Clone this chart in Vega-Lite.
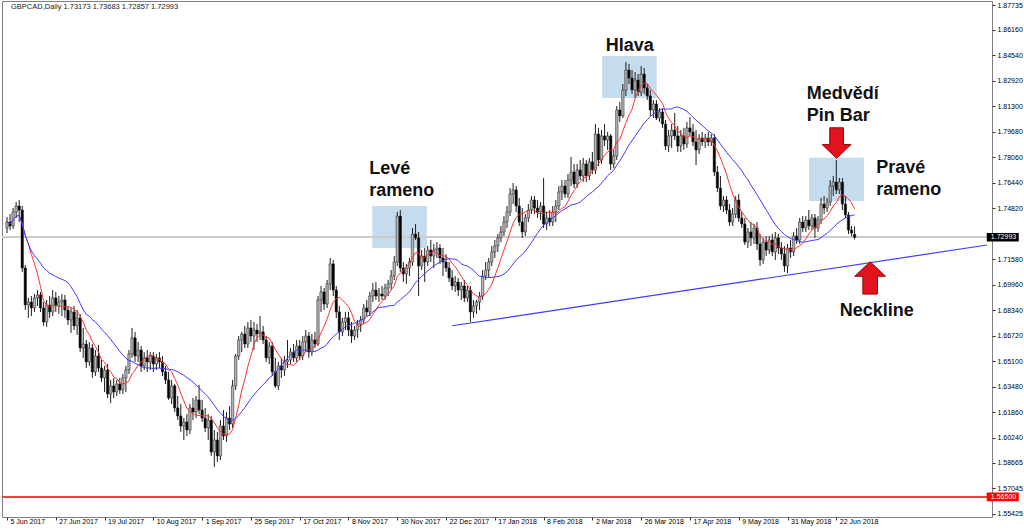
{
"$schema": "https://vega.github.io/schema/vega-lite/v6.json",
"width": 990,
"height": 516,
"autosize": {"type": "none"},
"padding": {"left": 2, "top": 1, "right": 32, "bottom": 15},
"background": "white",
"config": {
  "view": {"stroke": "#7f7f7f", "strokeWidth": 1},
  "axis": {"grid": false, "domain": false, "labelFont": "Liberation Sans", "labelFontSize": 7, "labelColor": "#000000", "tickColor": "#333333", "title": null}
},
"resolve": {"axis": {"x": "independent", "y": "independent"}},
"datasets": {
  "candles": [
{"i":0,"o":1.7358,"h":1.7428,"l":1.7326,"c":1.7396},
{"i":1,"o":1.7396,"h":1.7447,"l":1.7345,"c":1.7371},
{"i":2,"o":1.7371,"h":1.7485,"l":1.7352,"c":1.7460},
{"i":3,"o":1.7460,"h":1.7523,"l":1.7422,"c":1.7498},
{"i":4,"o":1.7498,"h":1.7536,"l":1.7396,"c":1.7472},
{"i":5,"o":1.7472,"h":1.7498,"l":1.7079,"c":1.7104},
{"i":6,"o":1.7104,"h":1.7123,"l":1.6837,"c":1.6869},
{"i":7,"o":1.6869,"h":1.6914,"l":1.6787,"c":1.6888},
{"i":8,"o":1.6888,"h":1.6926,"l":1.6799,"c":1.6850},
{"i":9,"o":1.6850,"h":1.6939,"l":1.6825,"c":1.6914},
{"i":10,"o":1.6914,"h":1.6964,"l":1.6863,"c":1.6933},
{"i":11,"o":1.6933,"h":1.6952,"l":1.6825,"c":1.6850},
{"i":12,"o":1.6850,"h":1.6888,"l":1.6736,"c":1.6761},
{"i":13,"o":1.6761,"h":1.6901,"l":1.6730,"c":1.6869},
{"i":14,"o":1.6869,"h":1.6926,"l":1.6787,"c":1.6825},
{"i":15,"o":1.6825,"h":1.6964,"l":1.6799,"c":1.6914},
{"i":16,"o":1.6914,"h":1.6952,"l":1.6825,"c":1.6863},
{"i":17,"o":1.6863,"h":1.6926,"l":1.6812,"c":1.6888},
{"i":18,"o":1.6888,"h":1.6939,"l":1.6799,"c":1.6901},
{"i":19,"o":1.6901,"h":1.6933,"l":1.6787,"c":1.6837},
{"i":20,"o":1.6837,"h":1.6863,"l":1.6742,"c":1.6774},
{"i":21,"o":1.6774,"h":1.6850,"l":1.6691,"c":1.6825},
{"i":22,"o":1.6825,"h":1.6863,"l":1.6710,"c":1.6736},
{"i":23,"o":1.6736,"h":1.6837,"l":1.6679,"c":1.6787},
{"i":24,"o":1.6787,"h":1.6812,"l":1.6570,"c":1.6596},
{"i":25,"o":1.6596,"h":1.6723,"l":1.6533,"c":1.6621},
{"i":26,"o":1.6621,"h":1.6647,"l":1.6469,"c":1.6507},
{"i":27,"o":1.6507,"h":1.6634,"l":1.6482,"c":1.6596},
{"i":28,"o":1.6596,"h":1.6621,"l":1.6406,"c":1.6444},
{"i":29,"o":1.6444,"h":1.6583,"l":1.6418,"c":1.6545},
{"i":30,"o":1.6545,"h":1.6615,"l":1.6444,"c":1.6469},
{"i":31,"o":1.6469,"h":1.6520,"l":1.6380,"c":1.6406},
{"i":32,"o":1.6406,"h":1.6482,"l":1.6316,"c":1.6456},
{"i":33,"o":1.6456,"h":1.6494,"l":1.6278,"c":1.6304},
{"i":34,"o":1.6304,"h":1.6393,"l":1.6246,"c":1.6355},
{"i":35,"o":1.6355,"h":1.6406,"l":1.6278,"c":1.6316},
{"i":36,"o":1.6316,"h":1.6393,"l":1.6291,"c":1.6367},
{"i":37,"o":1.6367,"h":1.6406,"l":1.6304,"c":1.6329},
{"i":38,"o":1.6329,"h":1.6431,"l":1.6304,"c":1.6406},
{"i":39,"o":1.6406,"h":1.6482,"l":1.6316,"c":1.6456},
{"i":40,"o":1.6456,"h":1.6583,"l":1.6431,"c":1.6558},
{"i":41,"o":1.6558,"h":1.6723,"l":1.6533,"c":1.6660},
{"i":42,"o":1.6660,"h":1.6698,"l":1.6507,"c":1.6545},
{"i":43,"o":1.6545,"h":1.6634,"l":1.6507,"c":1.6583},
{"i":44,"o":1.6583,"h":1.6608,"l":1.6444,"c":1.6482},
{"i":45,"o":1.6482,"h":1.6570,"l":1.6456,"c":1.6533},
{"i":46,"o":1.6533,"h":1.6583,"l":1.6444,"c":1.6507},
{"i":47,"o":1.6507,"h":1.6570,"l":1.6456,"c":1.6545},
{"i":48,"o":1.6545,"h":1.6570,"l":1.6444,"c":1.6494},
{"i":49,"o":1.6494,"h":1.6558,"l":1.6456,"c":1.6533},
{"i":50,"o":1.6533,"h":1.6570,"l":1.6469,"c":1.6507},
{"i":51,"o":1.6507,"h":1.6545,"l":1.6418,"c":1.6444},
{"i":52,"o":1.6444,"h":1.6482,"l":1.6367,"c":1.6393},
{"i":53,"o":1.6393,"h":1.6444,"l":1.6266,"c":1.6278},
{"i":54,"o":1.6278,"h":1.6393,"l":1.6240,"c":1.6355},
{"i":55,"o":1.6355,"h":1.6367,"l":1.6189,"c":1.6215},
{"i":56,"o":1.6215,"h":1.6291,"l":1.6138,"c":1.6164},
{"i":57,"o":1.6164,"h":1.6240,"l":1.6062,"c":1.6100},
{"i":58,"o":1.6100,"h":1.6151,"l":1.6011,"c":1.6126},
{"i":59,"o":1.6126,"h":1.6176,"l":1.6037,"c":1.6075},
{"i":60,"o":1.6075,"h":1.6240,"l":1.6049,"c":1.6215},
{"i":61,"o":1.6215,"h":1.6278,"l":1.6138,"c":1.6189},
{"i":62,"o":1.6189,"h":1.6291,"l":1.6151,"c":1.6266},
{"i":63,"o":1.6266,"h":1.6361,"l":1.6176,"c":1.6202},
{"i":64,"o":1.6202,"h":1.6266,"l":1.6126,"c":1.6151},
{"i":65,"o":1.6151,"h":1.6215,"l":1.6062,"c":1.6088},
{"i":66,"o":1.6088,"h":1.6176,"l":1.6011,"c":1.6138},
{"i":67,"o":1.6138,"h":1.6164,"l":1.5910,"c":1.5935},
{"i":68,"o":1.5935,"h":1.6075,"l":1.5840,"c":1.6011},
{"i":69,"o":1.6011,"h":1.6062,"l":1.5872,"c":1.5910},
{"i":70,"o":1.5910,"h":1.6138,"l":1.5884,"c":1.6100},
{"i":71,"o":1.6100,"h":1.6202,"l":1.6011,"c":1.6037},
{"i":72,"o":1.6037,"h":1.6189,"l":1.5999,"c":1.6151},
{"i":73,"o":1.6151,"h":1.6227,"l":1.6075,"c":1.6113},
{"i":74,"o":1.6113,"h":1.6393,"l":1.6088,"c":1.6355},
{"i":75,"o":1.6355,"h":1.6558,"l":1.6329,"c":1.6545},
{"i":76,"o":1.6545,"h":1.6672,"l":1.6520,"c":1.6647},
{"i":77,"o":1.6647,"h":1.6698,"l":1.6570,"c":1.6685},
{"i":78,"o":1.6685,"h":1.6736,"l":1.6596,"c":1.6621},
{"i":79,"o":1.6621,"h":1.6761,"l":1.6596,"c":1.6723},
{"i":80,"o":1.6723,"h":1.6774,"l":1.6634,"c":1.6672},
{"i":81,"o":1.6672,"h":1.6761,"l":1.6583,"c":1.6710},
{"i":82,"o":1.6710,"h":1.6748,"l":1.6634,"c":1.6685},
{"i":83,"o":1.6685,"h":1.6799,"l":1.6647,"c":1.6698},
{"i":84,"o":1.6698,"h":1.6736,"l":1.6621,"c":1.6647},
{"i":85,"o":1.6647,"h":1.6672,"l":1.6507,"c":1.6533},
{"i":86,"o":1.6533,"h":1.6634,"l":1.6494,"c":1.6608},
{"i":87,"o":1.6608,"h":1.6634,"l":1.6418,"c":1.6444},
{"i":88,"o":1.6444,"h":1.6533,"l":1.6342,"c":1.6355},
{"i":89,"o":1.6355,"h":1.6507,"l":1.6329,"c":1.6482},
{"i":90,"o":1.6482,"h":1.6533,"l":1.6406,"c":1.6456},
{"i":91,"o":1.6456,"h":1.6545,"l":1.6418,"c":1.6507},
{"i":92,"o":1.6507,"h":1.6647,"l":1.6469,"c":1.6520},
{"i":93,"o":1.6520,"h":1.6596,"l":1.6494,"c":1.6570},
{"i":94,"o":1.6570,"h":1.6621,"l":1.6507,"c":1.6533},
{"i":95,"o":1.6533,"h":1.6647,"l":1.6507,"c":1.6608},
{"i":96,"o":1.6608,"h":1.6647,"l":1.6520,"c":1.6545},
{"i":97,"o":1.6545,"h":1.6672,"l":1.6520,"c":1.6634},
{"i":98,"o":1.6634,"h":1.6710,"l":1.6570,"c":1.6672},
{"i":99,"o":1.6672,"h":1.6698,"l":1.6533,"c":1.6570},
{"i":100,"o":1.6570,"h":1.6685,"l":1.6545,"c":1.6647},
{"i":101,"o":1.6647,"h":1.6698,"l":1.6596,"c":1.6621},
{"i":102,"o":1.6621,"h":1.6926,"l":1.6608,"c":1.6901},
{"i":103,"o":1.6901,"h":1.6990,"l":1.6825,"c":1.6952},
{"i":104,"o":1.6952,"h":1.6977,"l":1.6837,"c":1.6875},
{"i":105,"o":1.6875,"h":1.7028,"l":1.6850,"c":1.7003},
{"i":106,"o":1.7003,"h":1.7168,"l":1.6964,"c":1.7130},
{"i":107,"o":1.7130,"h":1.7155,"l":1.6926,"c":1.6964},
{"i":108,"o":1.6964,"h":1.6990,"l":1.6787,"c":1.6825},
{"i":109,"o":1.6825,"h":1.6863,"l":1.6647,"c":1.6698},
{"i":110,"o":1.6698,"h":1.6787,"l":1.6672,"c":1.6761},
{"i":111,"o":1.6761,"h":1.6825,"l":1.6710,"c":1.6787},
{"i":112,"o":1.6787,"h":1.6825,"l":1.6672,"c":1.6710},
{"i":113,"o":1.6710,"h":1.6761,"l":1.6628,"c":1.6672},
{"i":114,"o":1.6672,"h":1.6736,"l":1.6647,"c":1.6710},
{"i":115,"o":1.6710,"h":1.6774,"l":1.6660,"c":1.6748},
{"i":116,"o":1.6748,"h":1.6799,"l":1.6698,"c":1.6774},
{"i":117,"o":1.6774,"h":1.6875,"l":1.6748,"c":1.6850},
{"i":118,"o":1.6850,"h":1.6901,"l":1.6799,"c":1.6825},
{"i":119,"o":1.6825,"h":1.6952,"l":1.6799,"c":1.6926},
{"i":120,"o":1.6926,"h":1.7009,"l":1.6888,"c":1.6964},
{"i":121,"o":1.6964,"h":1.7015,"l":1.6901,"c":1.6926},
{"i":122,"o":1.6926,"h":1.6977,"l":1.6888,"c":1.6939},
{"i":123,"o":1.6939,"h":1.6990,"l":1.6901,"c":1.6926},
{"i":124,"o":1.6926,"h":1.7003,"l":1.6901,"c":1.6977},
{"i":125,"o":1.6977,"h":1.7028,"l":1.6926,"c":1.7003},
{"i":126,"o":1.7003,"h":1.7091,"l":1.6964,"c":1.7053},
{"i":127,"o":1.7053,"h":1.7180,"l":1.7028,"c":1.7142},
{"i":128,"o":1.7142,"h":1.7460,"l":1.7117,"c":1.7434},
{"i":129,"o":1.7434,"h":1.7472,"l":1.7079,"c":1.7104},
{"i":130,"o":1.7104,"h":1.7142,"l":1.7015,"c":1.7066},
{"i":131,"o":1.7066,"h":1.7130,"l":1.7003,"c":1.7104},
{"i":132,"o":1.7104,"h":1.7168,"l":1.7053,"c":1.7142},
{"i":133,"o":1.7142,"h":1.7358,"l":1.7117,"c":1.7320},
{"i":134,"o":1.7320,"h":1.7383,"l":1.7282,"c":1.7295},
{"i":135,"o":1.7295,"h":1.7333,"l":1.6926,"c":1.7117},
{"i":136,"o":1.7117,"h":1.7218,"l":1.7091,"c":1.7180},
{"i":137,"o":1.7180,"h":1.7231,"l":1.7015,"c":1.7142},
{"i":138,"o":1.7142,"h":1.7244,"l":1.7117,"c":1.7218},
{"i":139,"o":1.7218,"h":1.7282,"l":1.7142,"c":1.7180},
{"i":140,"o":1.7180,"h":1.7256,"l":1.7104,"c":1.7218},
{"i":141,"o":1.7218,"h":1.7269,"l":1.7168,"c":1.7231},
{"i":142,"o":1.7231,"h":1.7256,"l":1.7130,"c":1.7168},
{"i":143,"o":1.7168,"h":1.7231,"l":1.7053,"c":1.7142},
{"i":144,"o":1.7142,"h":1.7193,"l":1.7079,"c":1.7104},
{"i":145,"o":1.7104,"h":1.7142,"l":1.7015,"c":1.7041},
{"i":146,"o":1.7041,"h":1.7091,"l":1.6964,"c":1.6990},
{"i":147,"o":1.6990,"h":1.7053,"l":1.6952,"c":1.7015},
{"i":148,"o":1.7015,"h":1.7041,"l":1.6926,"c":1.6964},
{"i":149,"o":1.6964,"h":1.7015,"l":1.6901,"c":1.6990},
{"i":150,"o":1.6990,"h":1.7028,"l":1.6888,"c":1.6914},
{"i":151,"o":1.6914,"h":1.6990,"l":1.6888,"c":1.6964},
{"i":152,"o":1.6964,"h":1.6990,"l":1.6761,"c":1.6825},
{"i":153,"o":1.6825,"h":1.6901,"l":1.6787,"c":1.6863},
{"i":154,"o":1.6863,"h":1.6901,"l":1.6812,"c":1.6888},
{"i":155,"o":1.6888,"h":1.6952,"l":1.6837,"c":1.6926},
{"i":156,"o":1.6926,"h":1.7091,"l":1.6901,"c":1.7053},
{"i":157,"o":1.7053,"h":1.7142,"l":1.7028,"c":1.7091},
{"i":158,"o":1.7091,"h":1.7168,"l":1.7041,"c":1.7142},
{"i":159,"o":1.7142,"h":1.7244,"l":1.7117,"c":1.7206},
{"i":160,"o":1.7206,"h":1.7282,"l":1.7168,"c":1.7244},
{"i":161,"o":1.7244,"h":1.7320,"l":1.7206,"c":1.7295},
{"i":162,"o":1.7295,"h":1.7371,"l":1.7269,"c":1.7333},
{"i":163,"o":1.7333,"h":1.7434,"l":1.7307,"c":1.7396},
{"i":164,"o":1.7396,"h":1.7498,"l":1.7358,"c":1.7460},
{"i":165,"o":1.7460,"h":1.7612,"l":1.7434,"c":1.7574},
{"i":166,"o":1.7574,"h":1.7644,"l":1.7510,"c":1.7600},
{"i":167,"o":1.7600,"h":1.7625,"l":1.7460,"c":1.7498},
{"i":168,"o":1.7498,"h":1.7549,"l":1.7371,"c":1.7396},
{"i":169,"o":1.7396,"h":1.7485,"l":1.7295,"c":1.7333},
{"i":170,"o":1.7333,"h":1.7447,"l":1.7307,"c":1.7422},
{"i":171,"o":1.7422,"h":1.7510,"l":1.7396,"c":1.7472},
{"i":172,"o":1.7472,"h":1.7561,"l":1.7447,"c":1.7536},
{"i":173,"o":1.7536,"h":1.7561,"l":1.7447,"c":1.7485},
{"i":174,"o":1.7485,"h":1.7536,"l":1.7422,"c":1.7460},
{"i":175,"o":1.7460,"h":1.7523,"l":1.7409,"c":1.7498},
{"i":176,"o":1.7498,"h":1.7676,"l":1.7358,"c":1.7384},
{"i":177,"o":1.7384,"h":1.7460,"l":1.7345,"c":1.7422},
{"i":178,"o":1.7422,"h":1.7472,"l":1.7371,"c":1.7396},
{"i":179,"o":1.7396,"h":1.7498,"l":1.7371,"c":1.7460},
{"i":180,"o":1.7460,"h":1.7536,"l":1.7396,"c":1.7498},
{"i":181,"o":1.7498,"h":1.7625,"l":1.7472,"c":1.7587},
{"i":182,"o":1.7587,"h":1.7663,"l":1.7536,"c":1.7625},
{"i":183,"o":1.7625,"h":1.7663,"l":1.7549,"c":1.7574},
{"i":184,"o":1.7574,"h":1.7701,"l":1.7549,"c":1.7663},
{"i":185,"o":1.7663,"h":1.7809,"l":1.7625,"c":1.7714},
{"i":186,"o":1.7714,"h":1.7765,"l":1.7612,"c":1.7638},
{"i":187,"o":1.7638,"h":1.7765,"l":1.7612,"c":1.7727},
{"i":188,"o":1.7727,"h":1.7790,"l":1.7663,"c":1.7689},
{"i":189,"o":1.7689,"h":1.7803,"l":1.7651,"c":1.7765},
{"i":190,"o":1.7765,"h":1.7790,"l":1.7651,"c":1.7689},
{"i":191,"o":1.7689,"h":1.7803,"l":1.7663,"c":1.7778},
{"i":192,"o":1.7778,"h":1.7841,"l":1.7701,"c":1.7727},
{"i":193,"o":1.7727,"h":1.8019,"l":1.7701,"c":1.7955},
{"i":194,"o":1.7955,"h":1.7994,"l":1.7752,"c":1.7790},
{"i":195,"o":1.7790,"h":1.7981,"l":1.7765,"c":1.7943},
{"i":196,"o":1.7943,"h":1.8019,"l":1.7879,"c":1.7917},
{"i":197,"o":1.7917,"h":1.7968,"l":1.7854,"c":1.7943},
{"i":198,"o":1.7943,"h":1.7955,"l":1.7727,"c":1.7765},
{"i":199,"o":1.7765,"h":1.7854,"l":1.7739,"c":1.7816},
{"i":200,"o":1.7816,"h":1.8133,"l":1.7790,"c":1.8108},
{"i":201,"o":1.8108,"h":1.8159,"l":1.8032,"c":1.8070},
{"i":202,"o":1.8070,"h":1.8273,"l":1.8057,"c":1.8235},
{"i":203,"o":1.8235,"h":1.8413,"l":1.8197,"c":1.8362},
{"i":204,"o":1.8362,"h":1.8400,"l":1.8273,"c":1.8311},
{"i":205,"o":1.8311,"h":1.8362,"l":1.8210,"c":1.8235},
{"i":206,"o":1.8235,"h":1.8349,"l":1.8184,"c":1.8298},
{"i":207,"o":1.8298,"h":1.8337,"l":1.8197,"c":1.8222},
{"i":208,"o":1.8222,"h":1.8387,"l":1.8197,"c":1.8336},
{"i":209,"o":1.8336,"h":1.8375,"l":1.8210,"c":1.8248},
{"i":210,"o":1.8248,"h":1.8273,"l":1.8171,"c":1.8197},
{"i":211,"o":1.8197,"h":1.8235,"l":1.8070,"c":1.8108},
{"i":212,"o":1.8108,"h":1.8171,"l":1.8057,"c":1.8146},
{"i":213,"o":1.8146,"h":1.8171,"l":1.8044,"c":1.8057},
{"i":214,"o":1.8057,"h":1.8120,"l":1.8032,"c":1.8095},
{"i":215,"o":1.8095,"h":1.8120,"l":1.7994,"c":1.8019},
{"i":216,"o":1.8019,"h":1.8044,"l":1.7854,"c":1.7879},
{"i":217,"o":1.7879,"h":1.7981,"l":1.7841,"c":1.7943},
{"i":218,"o":1.7943,"h":1.8019,"l":1.7867,"c":1.7981},
{"i":219,"o":1.7981,"h":1.8089,"l":1.7917,"c":1.7943},
{"i":220,"o":1.7943,"h":1.8006,"l":1.7841,"c":1.7879},
{"i":221,"o":1.7879,"h":1.7981,"l":1.7841,"c":1.7943},
{"i":222,"o":1.7943,"h":1.7994,"l":1.7854,"c":1.7892},
{"i":223,"o":1.7892,"h":1.8032,"l":1.7867,"c":1.7994},
{"i":224,"o":1.7994,"h":1.8063,"l":1.7943,"c":1.7968},
{"i":225,"o":1.7968,"h":1.8019,"l":1.7879,"c":1.7905},
{"i":226,"o":1.7905,"h":1.7981,"l":1.7758,"c":1.7854},
{"i":227,"o":1.7854,"h":1.7955,"l":1.7828,"c":1.7930},
{"i":228,"o":1.7930,"h":1.7968,"l":1.7879,"c":1.7905},
{"i":229,"o":1.7905,"h":1.7955,"l":1.7867,"c":1.7930},
{"i":230,"o":1.7930,"h":1.7968,"l":1.7879,"c":1.7905},
{"i":231,"o":1.7905,"h":1.7955,"l":1.7879,"c":1.7930},
{"i":232,"o":1.7930,"h":1.7955,"l":1.7689,"c":1.7714},
{"i":233,"o":1.7714,"h":1.7752,"l":1.7587,"c":1.7612},
{"i":234,"o":1.7612,"h":1.7689,"l":1.7472,"c":1.7498},
{"i":235,"o":1.7498,"h":1.7561,"l":1.7460,"c":1.7536},
{"i":236,"o":1.7536,"h":1.7561,"l":1.7447,"c":1.7472},
{"i":237,"o":1.7472,"h":1.7510,"l":1.7371,"c":1.7396},
{"i":238,"o":1.7396,"h":1.7485,"l":1.7371,"c":1.7447},
{"i":239,"o":1.7447,"h":1.7561,"l":1.7422,"c":1.7536},
{"i":240,"o":1.7536,"h":1.7574,"l":1.7396,"c":1.7422},
{"i":241,"o":1.7422,"h":1.7460,"l":1.7358,"c":1.7384},
{"i":242,"o":1.7384,"h":1.7422,"l":1.7250,"c":1.7269},
{"i":243,"o":1.7269,"h":1.7358,"l":1.7231,"c":1.7333},
{"i":244,"o":1.7333,"h":1.7396,"l":1.7244,"c":1.7295},
{"i":245,"o":1.7295,"h":1.7384,"l":1.7257,"c":1.7358},
{"i":246,"o":1.7358,"h":1.7396,"l":1.7218,"c":1.7257},
{"i":247,"o":1.7257,"h":1.7320,"l":1.7117,"c":1.7155},
{"i":248,"o":1.7155,"h":1.7295,"l":1.7130,"c":1.7269},
{"i":249,"o":1.7269,"h":1.7307,"l":1.7180,"c":1.7218},
{"i":250,"o":1.7218,"h":1.7307,"l":1.7193,"c":1.7282},
{"i":251,"o":1.7282,"h":1.7320,"l":1.7180,"c":1.7206},
{"i":252,"o":1.7206,"h":1.7333,"l":1.7155,"c":1.7295},
{"i":253,"o":1.7295,"h":1.7320,"l":1.7193,"c":1.7231},
{"i":254,"o":1.7231,"h":1.7269,"l":1.7155,"c":1.7193},
{"i":255,"o":1.7193,"h":1.7244,"l":1.7079,"c":1.7117},
{"i":256,"o":1.7117,"h":1.7257,"l":1.7072,"c":1.7231},
{"i":257,"o":1.7231,"h":1.7282,"l":1.7168,"c":1.7206},
{"i":258,"o":1.7206,"h":1.7333,"l":1.7180,"c":1.7307},
{"i":259,"o":1.7307,"h":1.7358,"l":1.7257,"c":1.7282},
{"i":260,"o":1.7282,"h":1.7422,"l":1.7257,"c":1.7396},
{"i":261,"o":1.7396,"h":1.7434,"l":1.7333,"c":1.7358},
{"i":262,"o":1.7358,"h":1.7434,"l":1.7333,"c":1.7409},
{"i":263,"o":1.7409,"h":1.7472,"l":1.7345,"c":1.7371},
{"i":264,"o":1.7371,"h":1.7447,"l":1.7345,"c":1.7422},
{"i":265,"o":1.7422,"h":1.7447,"l":1.7295,"c":1.7358},
{"i":266,"o":1.7358,"h":1.7434,"l":1.7333,"c":1.7409},
{"i":267,"o":1.7409,"h":1.7549,"l":1.7384,"c":1.7510},
{"i":268,"o":1.7510,"h":1.7561,"l":1.7447,"c":1.7485},
{"i":269,"o":1.7485,"h":1.7549,"l":1.7460,"c":1.7523},
{"i":270,"o":1.7523,"h":1.7663,"l":1.7498,"c":1.7625},
{"i":271,"o":1.7625,"h":1.7689,"l":1.7561,"c":1.7650},
{"i":272,"o":1.7650,"h":1.7790,"l":1.7574,"c":1.7600},
{"i":273,"o":1.7600,"h":1.7676,"l":1.7574,"c":1.7650},
{"i":274,"o":1.7650,"h":1.7676,"l":1.7472,"c":1.7510},
{"i":275,"o":1.7510,"h":1.7561,"l":1.7422,"c":1.7441},
{"i":276,"o":1.7441,"h":1.7460,"l":1.7320,"c":1.7345},
{"i":277,"o":1.7345,"h":1.7371,"l":1.7307,"c":1.7326},
{"i":278,"o":1.73173,"h":1.73683,"l":1.72857,"c":1.72993}
  ],
  "boxes": [
    {"i1": 119.8, "i2": 137.7, "p1": 1.7498, "p2": 1.7231},
    {"i1": 195.2, "i2": 213.1, "p1": 1.8451, "p2": 1.8184},
    {"i1": 263.1, "i2": 281.1, "p1": 1.7805, "p2": 1.7530}
  ],
  "neck": [{"i1": 146.0, "p1": 1.6737, "i2": 321.43, "p2": 1.7250}],
  "notes": [
    {"i": 118.8, "p": 1.7733, "t": "Levé\nrameno"},
    {"i": 196.4, "p": 1.8515, "t": "Hlava"},
    {"i": 262.3, "p": 1.8209, "t": "Medvědí\nPin Bar"},
    {"i": 285.1, "p": 1.7739, "t": "Pravé\nrameno"},
    {"i": 273.1, "p": 1.6831, "t": "Neckline"}
  ],
  "arrows": [
    {"i": 272.1, "p": 1.7898, "dir": "down"},
    {"i": 283.1, "p": 1.7041, "dir": "up"}
  ],
  "tags": [
    {"p": 1.72993, "label": "1.72993", "kind": "bid"},
    {"p": 1.565, "label": "1.56500", "kind": "alert"}
  ],
  "head": [{"i": 1.3, "p": 1.8762, "t": "GBPCAD,Daily  1.73173 1.73683 1.72857 1.72993"}]
},
"data": {"name": "candles"},
"layer": [
  {
    "data": {"name": "boxes"},
    "mark": {"type": "rect", "fill": "#c5dbee"},
    "encoding": {
      "x": {"field": "i1", "type": "quantitative", "scale": {"domain": [0, 321.43], "nice": false, "zero": false},
        "axis": {"values": [0,16,32,48,64,80,96,112,128,144,160,176,192,208,224,240,256,272],
          "labelExpr": "['5 Jun 2017','27 Jun 2017','19 Jul 2017','10 Aug 2017','1 Sep 2017','25 Sep 2017','17 Oct 2017','8 Nov 2017','30 Nov 2017','22 Dec 2017','17 Jan 2018','8 Feb 2018','2 Mar 2018','26 Mar 2018','17 Apr 2018','9 May 2018','31 May 2018','22 Jun 2018'][round(datum.value/16)]",
          "labelAlign": "left", "labelBaseline": "top", "labelPadding": -3, "labelOffset": 3, "tickSize": 3, "labelFlush": false, "labelOverlap": false, "title": null}},
      "x2": {"field": "i2"},
      "y": {"field": "p1", "type": "quantitative", "scale": {"domain": [1.55221, 1.88002], "nice": false, "zero": false},
        "axis": {"orient": "right", "values": [1.55425,1.57045,1.58665,1.6024,1.6186,1.6348,1.651,1.6672,1.6834,1.6996,1.7158,1.7482,1.7644,1.7806,1.7968,1.813,1.8292,1.8454,1.8616,1.87735],
          "format": ".5f", "tickSize": 3, "labelPadding": 2, "labelBaseline": "middle", "labelOverlap": false, "labelFlush": false, "title": null}},
      "y2": {"field": "p2"}
    }
  },
  {
    "mark": {"type": "rule", "color": "#cbcbcb", "strokeWidth": 1.5},
    "encoding": {"y": {"datum": 1.72993, "type": "quantitative", "scale": {"domain": [1.55221, 1.88002], "nice": false, "zero": false}, "axis": null}}
  },
  {
    "mark": {"type": "rule", "color": "#ff3a3a", "strokeWidth": 1},
    "encoding": {"y": {"datum": 1.565, "type": "quantitative", "scale": {"domain": [1.55221, 1.88002], "nice": false, "zero": false}, "axis": null}}
  },
  {
    "data": {"name": "neck"},
    "mark": {"type": "rule", "color": "#3b3bff", "strokeWidth": 1.2},
    "encoding": {
      "x": {"field": "i1", "type": "quantitative", "scale": {"domain": [0, 321.43], "nice": false, "zero": false}, "axis": null},
      "x2": {"field": "i2"},
      "y": {"field": "p1", "type": "quantitative", "scale": {"domain": [1.55221, 1.88002], "nice": false, "zero": false}, "axis": null},
      "y2": {"field": "p2"}
    }
  },
  {
    "mark": {"type": "rule", "color": "#1e1e1e", "strokeWidth": 1},
    "encoding": {
      "x": {"field": "i", "type": "quantitative", "scale": {"domain": [0, 321.43], "nice": false, "zero": false}, "axis": null},
      "y": {"field": "l", "type": "quantitative", "scale": {"domain": [1.55221, 1.88002], "nice": false, "zero": false}, "axis": null},
      "y2": {"field": "h"}
    }
  },
  {
    "mark": {"type": "bar", "size": 2.4, "stroke": "#1e1e1e", "strokeWidth": 0.5},
    "encoding": {
      "x": {"field": "i", "type": "quantitative", "scale": {"domain": [0, 321.43], "nice": false, "zero": false}, "axis": null},
      "y": {"field": "o", "type": "quantitative", "scale": {"domain": [1.55221, 1.88002], "nice": false, "zero": false}, "axis": null},
      "y2": {"field": "c"},
      "fill": {"condition": {"test": "datum.c >= datum.o", "value": "#b2b2b2"}, "value": "#000000"}
    }
  },
  {
    "transform": [{"window": [{"op": "mean", "field": "c", "as": "ma"}], "frame": [-7, 0], "sort": [{"field": "i", "order": "ascending"}]}],
    "mark": {"type": "line", "color": "#ff3030", "strokeWidth": 1},
    "encoding": {
      "x": {"field": "i", "type": "quantitative", "scale": {"domain": [0, 321.43], "nice": false, "zero": false}, "axis": null},
      "y": {"field": "ma", "type": "quantitative", "scale": {"domain": [1.55221, 1.88002], "nice": false, "zero": false}, "axis": null}
    }
  },
  {
    "transform": [{"window": [{"op": "mean", "field": "c", "as": "ma"}], "frame": [-20, 0], "sort": [{"field": "i", "order": "ascending"}]}],
    "mark": {"type": "line", "color": "#3a3aff", "strokeWidth": 1},
    "encoding": {
      "x": {"field": "i", "type": "quantitative", "scale": {"domain": [0, 321.43], "nice": false, "zero": false}, "axis": null},
      "y": {"field": "ma", "type": "quantitative", "scale": {"domain": [1.55221, 1.88002], "nice": false, "zero": false}, "axis": null}
    }
  },
  {
    "data": {"name": "notes"},
    "mark": {"type": "text", "font": "Liberation Sans", "fontWeight": "bold", "fontSize": 18, "align": "left", "baseline": "middle", "lineBreak": "\n", "lineHeight": 22, "color": "#111111"},
    "encoding": {
      "x": {"field": "i", "type": "quantitative", "scale": {"domain": [0, 321.43], "nice": false, "zero": false}, "axis": null},
      "y": {"field": "p", "type": "quantitative", "scale": {"domain": [1.55221, 1.88002], "nice": false, "zero": false}, "axis": null},
      "text": {"field": "t"}
    }
  },
  {
    "data": {"name": "arrows"},
    "transform": [{"filter": "datum.dir == 'down'"}],
    "mark": {"type": "point", "filled": true, "shape": "M-0.45,-1L0.45,-1L0.45,0.1L0.95,0.1L0,1L-0.95,0.1L-0.45,0.1Z", "size": 930, "fill": "#e4121c", "stroke": "#8e0a0a", "strokeWidth": 1, "opacity": 1},
    "encoding": {
      "x": {"field": "i", "type": "quantitative", "scale": {"domain": [0, 321.43], "nice": false, "zero": false}, "axis": null},
      "y": {"field": "p", "type": "quantitative", "scale": {"domain": [1.55221, 1.88002], "nice": false, "zero": false}, "axis": null}
    }
  },
  {
    "data": {"name": "arrows"},
    "transform": [{"filter": "datum.dir == 'up'"}],
    "mark": {"type": "point", "filled": true, "shape": "M-0.45,1L0.45,1L0.45,-0.1L0.95,-0.1L0,-1L-0.95,-0.1L-0.45,-0.1Z", "size": 1050, "fill": "#e4121c", "stroke": "#8e0a0a", "strokeWidth": 1, "opacity": 1},
    "encoding": {
      "x": {"field": "i", "type": "quantitative", "scale": {"domain": [0, 321.43], "nice": false, "zero": false}, "axis": null},
      "y": {"field": "p", "type": "quantitative", "scale": {"domain": [1.55221, 1.88002], "nice": false, "zero": false}, "axis": null}
    }
  },
  {
    "data": {"name": "tags"},
    "mark": {"type": "point", "filled": true, "shape": "M-1,-0.27L1,-0.27L1,0.27L-1,0.27Z", "size": 1024, "opacity": 1, "clip": false},
    "encoding": {
      "x": {"datum": 326.6, "type": "quantitative", "scale": {"domain": [0, 321.43], "nice": false, "zero": false}, "axis": null},
      "y": {"field": "p", "type": "quantitative", "scale": {"domain": [1.55221, 1.88002], "nice": false, "zero": false}, "axis": null},
      "color": {"field": "kind", "type": "nominal", "scale": {"domain": ["bid", "alert"], "range": ["#000000", "#ff0000"]}, "legend": null}
    }
  },
  {
    "data": {"name": "tags"},
    "mark": {"type": "text", "font": "Liberation Sans", "fontSize": 7, "align": "left", "baseline": "middle", "color": "#ffffff", "clip": false},
    "encoding": {
      "x": {"datum": 322.7, "type": "quantitative", "scale": {"domain": [0, 321.43], "nice": false, "zero": false}, "axis": null},
      "y": {"field": "p", "type": "quantitative", "scale": {"domain": [1.55221, 1.88002], "nice": false, "zero": false}, "axis": null},
      "text": {"field": "label"}
    }
  },
  {
    "data": {"name": "head"},
    "mark": {"type": "text", "font": "Liberation Sans", "fontSize": 7.5, "align": "left", "baseline": "middle", "color": "#222222"},
    "encoding": {
      "x": {"field": "i", "type": "quantitative", "scale": {"domain": [0, 321.43], "nice": false, "zero": false}, "axis": null},
      "y": {"field": "p", "type": "quantitative", "scale": {"domain": [1.55221, 1.88002], "nice": false, "zero": false}, "axis": null},
      "text": {"field": "t"}
    }
  }
]
}
